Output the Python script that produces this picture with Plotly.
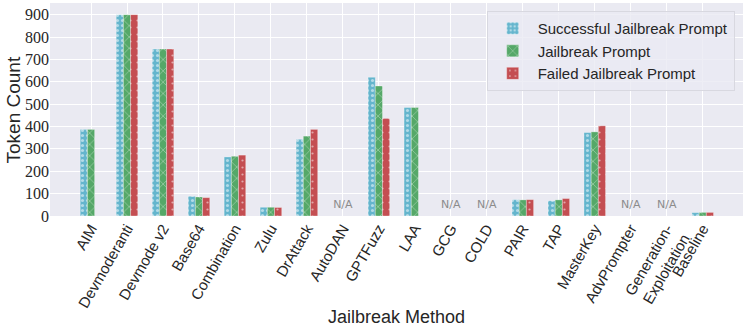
import plotly.graph_objects as go

methods = ["AIM", "Devmoderanti", "Devmode v2", "Base64", "Combination", "Zulu",
           "DrAttack", "AutoDAN", "GPTFuzz", "LAA", "GCG", "COLD", "PAIR", "TAP",
           "MasterKey", "AdvPrompter", "Generation-<br>Exploitation", "Baseline"]

successful = [387, 900, 746, 88, 264, 39, 343, None, 620, 485, None, None, 73, 68, 373, None, None, 15]
jailbreak = [387, 900, 746, 85, 267, 39, 357, None, 581, 485, None, None, 72, 72, 376, None, None, 16]
failed = [None, 900, 746, 82, 272, 38, 387, None, 436, None, None, None, 73, 78, 403, None, None, 16]

na_methods = ["AutoDAN", "GCG", "COLD", "AdvPrompter", "Generation-<br>Exploitation"]

BG = "#EAEAF2"
TXT = "#262626"
LABEL_FONT = "Liberation Sans"

fig = go.Figure()
series = [
    ("Successful Jailbreak Prompt", successful, "#64B5CD", ".", 5, 0.3),
    ("Jailbreak Prompt", jailbreak, "#55A868", "x", 8, 0.15),
    ("Failed Jailbreak Prompt", failed, "#C44E52", ".", 7, 0.08),
]
for name, vals, color, shape, psize, solid in series:
    fig.add_trace(go.Bar(
        x=methods, y=vals, name=name,
        marker=dict(color=color, line=dict(color="rgba(255,255,255,0.6)", width=0.5),
                    pattern=dict(shape=shape, fgcolor="white", size=psize, solidity=solid)),
    ))

fig.add_trace(go.Scatter(
    x=na_methods, y=[48] * len(na_methods), mode="text", text=["N/A"] * len(na_methods),
    textfont=dict(family="DejaVu Sans", size=11, color="#8c8c8c"), showlegend=False,
    hoverinfo="skip",
))

fig.update_layout(
    width=747, height=329,
    margin=dict(l=50, r=4, t=3, b=113, autoexpand=False),
    paper_bgcolor="white", plot_bgcolor=BG,
    barmode="group", bargap=0.4, bargroupgap=0,
    legend=dict(x=0.988, y=0.962, xanchor="right", yanchor="top",
                bgcolor="rgba(234,234,242,0.8)", bordercolor="#d8d8e0", borderwidth=1,
                font=dict(family=LABEL_FONT, size=15, color=TXT), tracegroupgap=0,
                itemwidth=40),
    showlegend=True,
    annotations=[
        dict(text="Jailbreak Method", xref="paper", yref="paper", x=0.5, y=-0.476,
             xanchor="center", yanchor="middle", showarrow=False,
             font=dict(family=LABEL_FONT, size=18, color=TXT)),
        dict(text="Token Count", xref="paper", yref="paper", x=-0.052, y=0.5,
             xanchor="center", yanchor="middle", textangle=-90, showarrow=False,
             font=dict(family=LABEL_FONT, size=19, color=TXT)),
    ],
)
fig.update_xaxes(
    range=[-1.14, 18.12], showgrid=True, gridcolor="white", gridwidth=1,
    tickangle=-60, tickfont=dict(family=LABEL_FONT, size=15, color=TXT),
    ticks="", zeroline=False, automargin=False,
)
fig.update_yaxes(
    range=[0, 952], dtick=100, showgrid=True, gridcolor="white", gridwidth=1,
    tickfont=dict(family="Liberation Serif", size=16, color=TXT),
    ticks="", zeroline=False, automargin=False,
)

# the page body has a default 8px margin; drop it so the figure sits at the corner
fig.write_html("out.html", config={"displayModeBar": False},
               post_script="document.body.style.margin='0';")
